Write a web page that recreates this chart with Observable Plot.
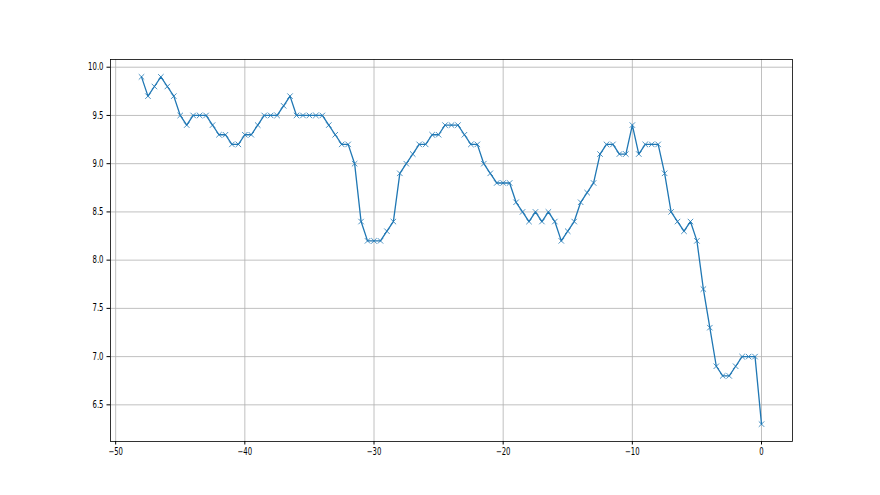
<!DOCTYPE html>
<html>
<head>
<meta charset="utf-8">
<script src="https://cdn.jsdelivr.net/npm/d3@7"></script>
<script src="https://cdn.jsdelivr.net/npm/@observablehq/plot@0.6"></script>
<style>
  html, body { margin: 0; padding: 0; background: #ffffff; }
  #chart svg { display: block; }
</style>
</head>
<body>
<div id="chart"></div>
<script>
const xValues = [
  -48, -47.5, -47, -46.5, -46, -45.5, -45, -44.5, -44, -43.5,
  -43, -42.5, -42, -41.5, -41, -40.5, -40, -39.5, -39, -38.5,
  -38, -37.5, -37, -36.5, -36, -35.5, -35, -34.5, -34, -33.5,
  -33, -32.5, -32, -31.5, -31, -30.5, -30, -29.5, -29, -28.5,
  -28, -27.5, -27, -26.5, -26, -25.5, -25, -24.5, -24, -23.5,
  -23, -22.5, -22, -21.5, -21, -20.5, -20, -19.5, -19, -18.5,
  -18, -17.5, -17, -16.5, -16, -15.5, -15, -14.5, -14, -13.5,
  -13, -12.5, -12, -11.5, -11, -10.5, -10, -9.5, -9, -8.5,
  -8, -7.5, -7, -6.5, -6, -5.5, -5, -4.5, -4, -3.5,
  -3, -2.5, -2, -1.5, -1, -0.5, 0
];
const yValues = [
  9.9, 9.7, 9.8, 9.9, 9.8, 9.7, 9.5, 9.4, 9.5, 9.5,
  9.5, 9.4, 9.3, 9.3, 9.2, 9.2, 9.3, 9.3, 9.4, 9.5,
  9.5, 9.5, 9.6, 9.7, 9.5, 9.5, 9.5, 9.5, 9.5, 9.4,
  9.3, 9.2, 9.2, 9.0, 8.4, 8.2, 8.2, 8.2, 8.3, 8.4,
  8.9, 9.0, 9.1, 9.2, 9.2, 9.3, 9.3, 9.4, 9.4, 9.4,
  9.3, 9.2, 9.2, 9.0, 8.9, 8.8, 8.8, 8.8, 8.6, 8.5,
  8.4, 8.5, 8.4, 8.5, 8.4, 8.2, 8.3, 8.4, 8.6, 8.7,
  8.8, 9.1, 9.2, 9.2, 9.1, 9.1, 9.4, 9.1, 9.2, 9.2,
  9.2, 8.9, 8.5, 8.4, 8.3, 8.4, 8.2, 7.7, 7.3, 6.9,
  6.8, 6.8, 6.9, 7.0, 7.0, 7.0, 6.3
];
const xTicks = [-50, -40, -30, -20, -10, 0];
const yTicks = [6.5, 7.0, 7.5, 8.0, 8.5, 9.0, 9.5, 10.0];

const data = xValues.map((x, i) => ({x, y: yValues[i]}));

const chart = Plot.plot({
  width: 880,
  height: 495,
  marginLeft: 110,
  marginRight: 88,
  marginTop: 59,
  marginBottom: 54,
  style: {fontFamily: "DejaVu Sans", fontSize: "9.6px", color: "#000", background: "#fff"},
  x: {domain: [-50.4, 2.4]},
  y: {domain: [6.12, 10.08]},
  marks: [
    Plot.gridX(xTicks, {stroke: "#b0b0b0", strokeOpacity: 1, strokeWidth: 0.8}),
    Plot.gridY(yTicks, {stroke: "#b0b0b0", strokeOpacity: 1, strokeWidth: 0.8}),
    Plot.line(data, {x: "x", y: "y", stroke: "#1f77b4", strokeWidth: 1.3}),
    Plot.dot(data, {x: "x", y: "y", symbol: "times", r: 2.6, stroke: "#1f77b4", strokeWidth: 0.8}),
    Plot.frame({stroke: "#000", strokeWidth: 0.8}),
    Plot.axisX(xTicks, {tickSize: 3.5, tickPadding: 3.5, tickFormat: d => d3.format("d")(d), label: null, fontSize: 9.6}),
    Plot.axisY(yTicks, {tickSize: 3.5, tickPadding: 3.5, tickFormat: d3.format(".1f"), label: null, fontSize: 9.6})
  ]
});
document.getElementById("chart").appendChild(chart);

// Narrow the tick labels horizontally, as in the reference rendering
d3.select(chart).selectAll('g[aria-label="x-axis tick label"] text, g[aria-label="y-axis tick label"] text').each(function() {
  const len = this.getComputedTextLength();
  if (len > 0) {
    this.setAttribute("textLength", (len * 0.72).toFixed(2));
    this.setAttribute("lengthAdjust", "spacingAndGlyphs");
  }
});
</script>
</body>
</html>
